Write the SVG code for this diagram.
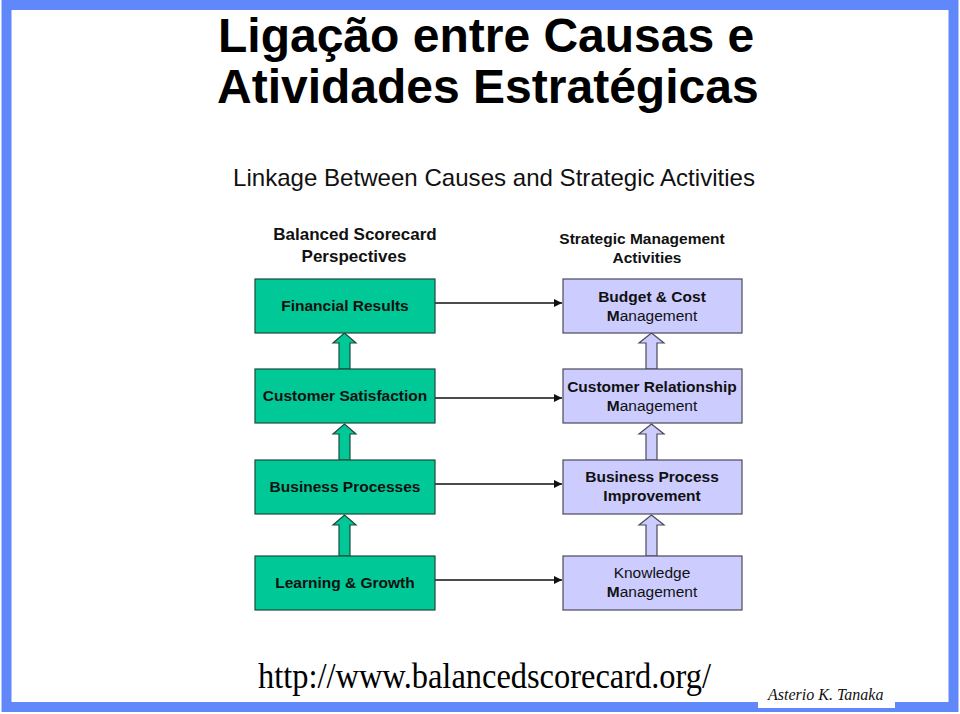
<svg xmlns="http://www.w3.org/2000/svg" width="960" height="714" viewBox="0 0 960 714">
<style>
.title{font-family:"Liberation Sans",Arial,sans-serif;font-weight:bold;font-size:48px;fill:#000}
.sub{font-family:"Liberation Sans",Arial,sans-serif;font-size:24px;fill:#111}
.hdr{font-family:"Liberation Sans",Arial,sans-serif;font-weight:bold;fill:#111;text-anchor:middle}
.bt{font-family:"Liberation Sans",Arial,sans-serif;font-weight:bold;font-size:15.5px;fill:#111;text-anchor:middle}
.rt{font-family:"Liberation Sans",Arial,sans-serif;font-size:15.5px;fill:#111;text-anchor:middle}
.b{font-weight:bold}
.g{fill:#00c896;stroke:#1d4a3c;stroke-width:1.2}
.p{fill:#ccccff;stroke:#4a4a5a;stroke-width:1.2}
.ln{stroke:#111;stroke-width:1.5;fill:none}
</style>
<defs>
<marker id="ah" markerWidth="10" markerHeight="10" refX="9" refY="5" orient="auto" markerUnits="userSpaceOnUse">
<path d="M1,1 L9,5 L1,9 Z" fill="#111"/>
</marker>
</defs>
<rect x="0" y="0" width="960" height="714" fill="#fff"/>
<rect x="6.5" y="5" width="947" height="702" fill="none" stroke="#6188fb" stroke-width="10"/>
<g id="title">
<text class="title" x="218" y="52">Ligação entre Causas e</text>
<text class="title" x="217" y="103">Atividades Estratégicas</text>
</g>
<text class="sub" x="233" y="186" textLength="522" lengthAdjust="spacingAndGlyphs">Linkage Between Causes and Strategic Activities</text>
<g id="hdr-left">
<text class="hdr" x="355" y="240" font-size="17">Balanced Scorecard</text>
<text class="hdr" x="354" y="262" font-size="17">Perspectives</text>
</g>
<g id="hdr-right">
<text class="hdr" x="642" y="244" font-size="15.5">Strategic Management</text>
<text class="hdr" x="647" y="263" font-size="15.5">Activities</text>
</g>
<g id="connectors">
<line class="ln" x1="435" y1="303" x2="562" y2="303" marker-end="url(#ah)"/>
<line class="ln" x1="435" y1="398" x2="562" y2="398" marker-end="url(#ah)"/>
<line class="ln" x1="435" y1="484" x2="562" y2="484" marker-end="url(#ah)"/>
<line class="ln" x1="435" y1="580" x2="562" y2="580" marker-end="url(#ah)"/>
<path class="g" d="M339,369 V343 H333 L344.5,333 L356,343 H350 V369 Z"/>
<path class="g" d="M339,460 V434 H333 L344.5,424 L356,434 H350 V460 Z"/>
<path class="g" d="M339,556 V525 H333 L344.5,515 L356,525 H350 V556 Z"/>
<path class="p" d="M646,369 V343 H639 L651.5,333 L664,343 H657 V369 Z"/>
<path class="p" d="M646,460 V434 H639 L651.5,424 L664,434 H657 V460 Z"/>
<path class="p" d="M646,556 V525 H639 L651.5,515 L664,525 H657 V556 Z"/>
</g>
<g id="financial">
<rect class="g" x="255" y="279" width="180" height="54"/>
<text class="bt" x="345" y="311">Financial Results</text>
</g>
<g id="customer">
<rect class="g" x="255" y="369" width="180" height="54"/>
<text class="bt" x="345" y="401">Customer Satisfaction</text>
</g>
<g id="business">
<rect class="g" x="255" y="460" width="180" height="54"/>
<text class="bt" x="345" y="492">Business Processes</text>
</g>
<g id="learning">
<rect class="g" x="255" y="556" width="180" height="54"/>
<text class="bt" x="345" y="588">Learning &amp; Growth</text>
</g>
<g id="budget">
<rect class="p" x="563" y="279" width="179" height="54"/>
<text class="bt" x="652" y="302">Budget &amp; Cost</text>
<text class="rt" x="652" y="321"><tspan class="b">M</tspan>anagement</text>
</g>
<g id="crm">
<rect class="p" x="563" y="369" width="179" height="54"/>
<text class="bt" x="652" y="392">Customer Relationship</text>
<text class="rt" x="652" y="411"><tspan class="b">M</tspan>anagement</text>
</g>
<g id="bpi">
<rect class="p" x="563" y="460" width="179" height="54"/>
<text class="bt" x="652" y="482">Business Process</text>
<text class="bt" x="652" y="501">Improvement</text>
</g>
<g id="knowledge">
<rect class="p" x="563" y="556" width="179" height="54"/>
<text class="rt" x="652" y="578">Knowledge</text>
<text class="rt" x="652" y="597"><tspan class="b">M</tspan>anagement</text>
</g>
<text x="258" y="688" font-family="'Liberation Serif','Times New Roman',serif" font-size="36" textLength="453" lengthAdjust="spacingAndGlyphs" fill="#000">http://www.balancedscorecard.org/</text>
<rect x="758" y="682" width="137" height="26" fill="#fff"/>
<text x="768" y="700" font-family="'Liberation Serif','Times New Roman',serif" font-style="italic" font-size="16" fill="#111">Asterio K. Tanaka</text>
</svg>
